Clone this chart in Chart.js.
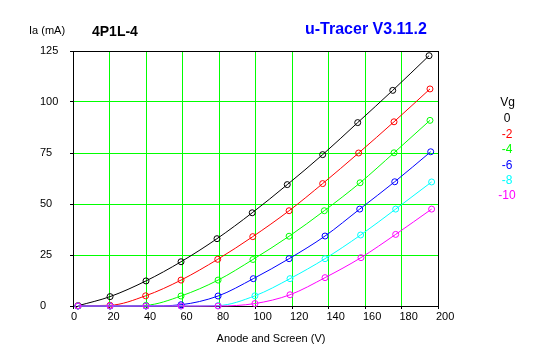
<!DOCTYPE html>
<html>
<head>
<meta charset="utf-8">
<script src="https://cdn.jsdelivr.net/npm/chart.js@4"></script>
<style>
  html, body { margin: 0; padding: 0; background: #fff; }
  #wrap { width: 547px; height: 357px; }
</style>
</head>
<body>
<div id="wrap"><canvas id="c" width="547" height="357"></canvas></div>
<script>
// ---- data ----
const chartTitle = '4P1L-4';
const brandText = 'u-Tracer V3.11.2';
const yAxisTitle = 'Ia (mA)';
const xAxisTitle = 'Anode and Screen (V)';
const legendTitle = 'Vg';
const seriesNames = ['0', '-2', '-4', '-6', '-8', '-10'];

const va0  = [2.9, 20.3, 40.0, 59.2, 78.9, 98.2, 117.4, 136.8, 156.0, 175.2, 195.1];
const ia0  = [0.15, 4.6, 12.3, 21.7, 33.0, 45.7, 59.5, 74.2, 89.9, 105.7, 122.7];
const va2  = [2.7, 20.3, 39.8, 59.2, 79.3, 98.5, 118.4, 136.8, 156.5, 175.9, 195.6];
const ia2  = [0.15, 0.35, 5.0, 12.7, 22.9, 34.0, 46.7, 60.0, 75.0, 90.3, 106.4];
const va4  = [2.7, 20.3, 40.0, 59.2, 79.5, 98.6, 118.4, 137.7, 157.3, 175.9, 195.6];
const ia4  = [0, 0, 0.35, 4.9, 12.7, 22.8, 34.2, 46.7, 60.4, 75.1, 91.0];
const va6  = [2.7, 20.3, 40.0, 59.2, 79.5, 98.8, 118.4, 138.1, 157.1, 176.3, 196.0];
const ia6  = [0, 0, 0, 0.64, 4.9, 13.4, 23.2, 34.3, 47.5, 60.9, 75.6];
const va8  = [2.7, 20.3, 40.0, 59.2, 79.5, 99.7, 118.9, 138.1, 157.6, 176.8, 196.5];
const ia8  = [0, 0, 0, 0, 0.2, 5.0, 13.4, 23.2, 34.8, 47.5, 60.8];
const va10 = [2.7, 20.3, 40.0, 59.2, 79.5, 99.7, 118.9, 138.1, 157.8, 176.8, 196.5];
const ia10 = [0, 0, 0, 0, 0, 1.2, 5.5, 13.9, 23.7, 35.1, 47.5];

const xTicks = { min: 0, max: 200, step: 20 };
const yTicks = { min: 0, max: 125, step: 25 };

// ---- styles ----
const seriesColors = ['#000000', '#ff0000', '#00ff00', '#0000ff', '#00ffff', '#ff00ff'];
const allV = [va0, va2, va4, va6, va8, va10];
const allI = [ia0, ia2, ia4, ia6, ia8, ia10];

const datasets = seriesNames.map((name, k) => ({
  label: name,
  data: allV[k].map((v, i) => ({ x: v, y: allI[k][i] })),
  borderColor: seriesColors[k],
  backgroundColor: 'rgba(0,0,0,0)',
  borderWidth: 1,
  pointRadius: 3,
  pointBorderWidth: 1,
  pointBorderColor: seriesColors[k],
  pointBackgroundColor: 'rgba(0,0,0,0)',
  cubicInterpolationMode: 'monotone',
  order: seriesNames.length - 1 - k,
  clip: false
}));

const FONT = 'Liberation Sans, Arial, sans-serif';

const framePlugin = {
  id: 'frame',
  beforeDatasetsDraw(chart) {
    const { ctx, chartArea: a } = chart;
    ctx.save();
    ctx.strokeStyle = '#000';
    ctx.lineWidth = 1;
    ctx.strokeRect(Math.round(a.left) + 0.5, Math.round(a.top) + 0.5,
                   Math.round(a.right - a.left), Math.round(a.bottom - a.top));
    ctx.restore();
  }
};

// nudge x tick labels slightly left of their grid line, as in the reference
const labelNudgePlugin = {
  id: 'labelNudge',
  beforeDraw(chart) {
    const s = chart.scales.x;
    if (!s || !s.getLabelItems) return;
    const items = s.getLabelItems(chart.chartArea);
    items.forEach(it => {
      if (!it._nudged && it.options && it.options.translation) {
        it.options.translation[0] -= 2;
        it._nudged = true;
      }
    });
  }
};

const textPlugin = {
  id: 'texts',
  afterDraw(chart) {
    const ctx = chart.ctx;
    ctx.save();
    ctx.textBaseline = 'middle';
    ctx.fillStyle = '#000';
    ctx.font = '11px ' + FONT;
    ctx.textAlign = 'left';
    ctx.fillText(yAxisTitle, 29, 31);
    ctx.font = 'bold 14px ' + FONT;
    ctx.fillText(chartTitle, 92, 32);
    ctx.fillStyle = '#0000ff';
    ctx.font = 'bold 16px ' + FONT;
    ctx.fillText(brandText, 305, 30);
    // x axis title
    ctx.fillStyle = '#000';
    ctx.font = '11px ' + FONT;
    ctx.textAlign = 'center';
    ctx.fillText(xAxisTitle, 271, 338.5);
    // legend
    ctx.font = '12px ' + FONT;
    ctx.fillText(legendTitle, 507.5, 102.5);
    seriesNames.forEach((n, k) => {
      ctx.fillStyle = seriesColors[k];
      ctx.fillText(n, 507, 119 + k * 15.4);
    });
    ctx.restore();
  }
};

new Chart(document.getElementById('c'), {
  type: 'line',
  data: { datasets },
  options: {
    responsive: false,
    animation: false,
    events: [],
    layout: { padding: { left: 40, top: 51, right: 109, bottom: 0 } },
    plugins: { legend: { display: false }, tooltip: { enabled: false }, title: { display: false } },
    scales: {
      x: {
        type: 'linear',
        min: xTicks.min, max: xTicks.max,
        afterFit(s) { s.height = 51; },
        ticks: { stepSize: xTicks.step, color: '#000', font: { family: FONT, size: 11 }, padding: 1, align: 'start', maxRotation: 0, autoSkip: false },
        grid: { color: '#00ff00', lineWidth: 1, tickColor: '#000', tickLength: 3 },
        border: { color: '#000', width: 1 }
      },
      y: {
        type: 'linear',
        min: yTicks.min, max: yTicks.max,
        afterFit(s) { s.width = 33; },
        ticks: { stepSize: yTicks.step, color: '#000', font: { family: FONT, size: 11 }, crossAlign: 'far', padding: 3 },
        grid: { color: '#00ff00', lineWidth: 1, tickColor: '#000', tickLength: 3 },
        border: { color: '#000', width: 1 }
      }
    }
  },
  plugins: [framePlugin, labelNudgePlugin, textPlugin]
});
</script>
</body>
</html>
